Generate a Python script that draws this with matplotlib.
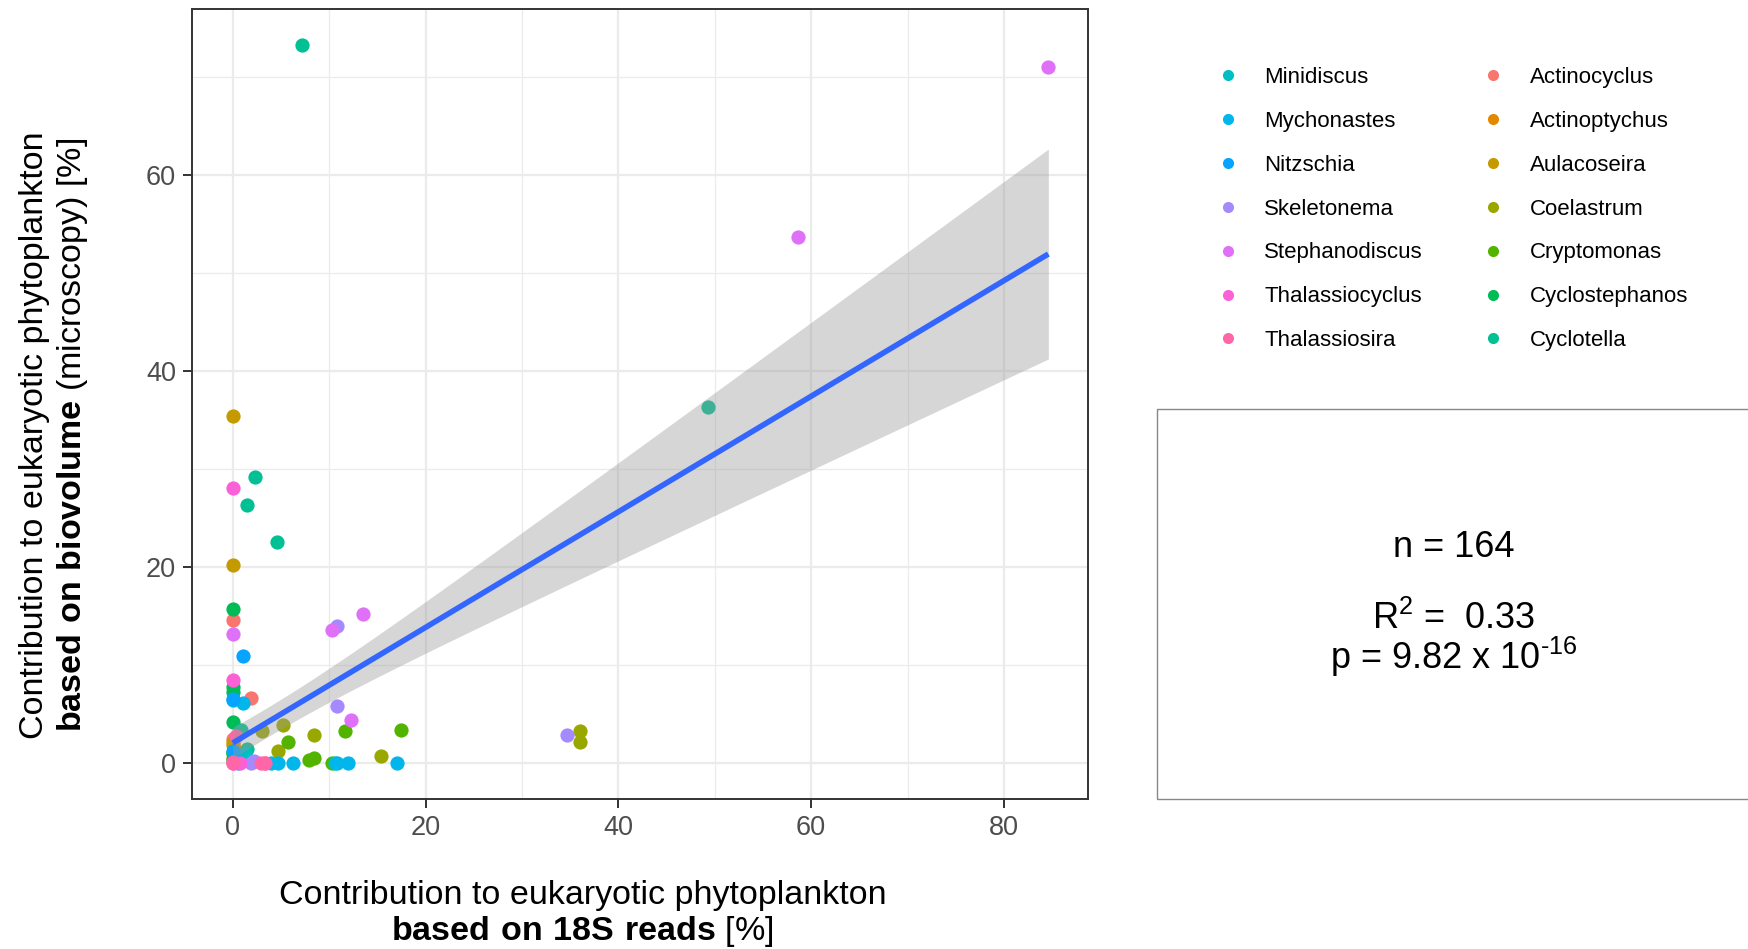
# Biovolume vs 18S reads scatter with linear fit

import matplotlib
matplotlib.use('Agg')
import matplotlib.pyplot as plt
import numpy as np
from matplotlib.lines import Line2D
from matplotlib.patches import Rectangle

# species, in alphabetical (colour) order
species = ['Actinocyclus', 'Actinoptychus', 'Aulacoseira', 'Coelastrum', 'Cryptomonas',
           'Cyclostephanos', 'Cyclotella', 'Minidiscus', 'Mychonastes', 'Nitzschia',
           'Skeletonema', 'Stephanodiscus', 'Thalassiocyclus', 'Thalassiosira']
colors = ['#F8766D', '#E38900', '#C49A00', '#99A800', '#53B400', '#00BC56', '#00C094',
          '#00BFC4', '#00B6EB', '#06A4FF', '#A58AFF', '#DF70F8', '#FB61D7', '#FF66A8']

# x = contribution from 18S reads [%], y = contribution from biovolume [%]
reads_x = {
    'Actinocyclus': [0, 1.9, 0, 3.3],
    'Actinoptychus': [0, 0.3],
    'Aulacoseira': [0, 0, 0, 0],
    'Coelastrum': [3.0, 5.2, 8.4, 4.7, 15.4, 36.0, 36.0, 1.0],
    'Cryptomonas': [5.7, 11.6, 17.5, 7.9, 8.4, 10.3, 0],
    'Cyclostephanos': [0, 0, 0, 0, 0, 0],
    'Cyclotella': [7.2, 49.25, 2.3, 1.45, 4.6, 0.9, 1.5],
    'Minidiscus': [10.6, 1.3, 0.5],
    'Mychonastes': [17.0, 12.0, 6.3, 4.7, 4.0, 1.04, 0, 10.8],
    'Nitzschia': [1.04, 0, 0, 0.5],
    'Skeletonema': [10.85, 10.85, 34.7, 1.9, 2.2],
    'Stephanodiscus': [84.6, 58.6, 10.26, 13.5, 12.3, 0],
    'Thalassiocyclus': [0, 0, 0, 0.8],
    'Thalassiosira': [0, 2.9, 3.3, 0.3, 0],
}
biovol_y = {
    'Actinocyclus': [14.6, 6.6, 2.5, 0],
    'Actinoptychus': [1.8, 1.2],
    'Aulacoseira': [35.4, 20.2, 2.2, 0.5],
    'Coelastrum': [3.3, 3.9, 2.85, 1.25, 0.7, 3.3, 2.2, 0.3],
    'Cryptomonas': [2.2, 3.25, 3.4, 0.3, 0.5, 0, 1.0],
    'Cyclostephanos': [15.7, 7.8, 7.3, 4.2, 1.0, 0.3],
    'Cyclotella': [73.3, 36.3, 29.2, 26.3, 22.6, 3.4, 1.4],
    'Minidiscus': [0, 1.0, 0.6],
    'Mychonastes': [0, 0, 0, 0, 0, 6.1, 6.4, 0],
    'Nitzschia': [10.9, 6.5, 1.2, 0],
    'Skeletonema': [13.96, 5.8, 2.85, 0, 0.2],
    'Stephanodiscus': [71.1, 53.75, 13.6, 15.25, 4.4, 13.2],
    'Thalassiocyclus': [28.1, 8.5, 0, 0],
    'Thalassiosira': [0.1, 0, 0, 2.8, 0],
}

# lm fit summary
n_obs = 164
intercept = 2.05
slope = 0.59
resid_se = 9.8
x_mean = 3.5
sxx = 21900
t_crit = 1.975
r_squared = 0.33
p_text = r'9.82 x 10$^{\mathrm{‐16}}$'

# legend order as in the figure (two columns)
legend_order = ['Minidiscus', 'Mychonastes', 'Nitzschia', 'Skeletonema', 'Stephanodiscus',
                'Thalassiocyclus', 'Thalassiosira', 'Actinocyclus', 'Actinoptychus',
                'Aulacoseira', 'Coelastrum', 'Cryptomonas', 'Cyclostephanos', 'Cyclotella']

plt.rcParams['font.family'] = ['Liberation Sans', 'DejaVu Sans']
plt.rcParams['mathtext.fontset'] = 'custom'
plt.rcParams['mathtext.rm'] = 'Liberation Sans'
plt.rcParams['mathtext.bf'] = 'Liberation Sans:bold'

fig = plt.figure(figsize=(17.49, 9.49), dpi=100)
ax = fig.add_axes((0.1098, 0.158, 0.5122, 0.8325))

for name, col in zip(species, colors):
    ax.scatter(reads_x[name], biovol_y[name], s=105, color=col, linewidths=0, zorder=3)

all_x = np.concatenate([reads_x[k] for k in species])
xs = np.linspace(all_x.min(), all_x.max(), 100)
fit = intercept + slope * xs
half = t_crit * resid_se * np.sqrt(1 / n_obs + (xs - x_mean) ** 2 / sxx)
ax.fill_between(xs, fit - half, fit + half, color='#999999', alpha=0.4, linewidth=0, zorder=4)
ax.plot(xs, fit, color='#3366FF', lw=4, zorder=5, solid_capstyle='butt')

ax.set_xlim(-4.22, 88.7)
ax.set_ylim(-3.67, 76.97)
ax.set_xticks([0, 20, 40, 60, 80])
ax.set_yticks([0, 20, 40, 60])
ax.set_xticks([10, 30, 50, 70], minor=True)
ax.set_yticks([10, 30, 50, 70], minor=True)
ax.grid(which='major', color='#EBEBEB', lw=1.6, zorder=0)
ax.grid(which='minor', color='#EBEBEB', lw=0.9, zorder=0)
ax.set_axisbelow(True)
ax.tick_params(which='major', length=6.5, width=1.4, color='#333333', labelcolor='#4D4D4D',
               labelsize=19.5, pad=5)
ax.tick_params(which='minor', length=0)
for sp in ax.spines.values():
    sp.set_color('#333333')
    sp.set_linewidth(1.4)

# axis titles
fig.text(0.333, 0.056, 'Contribution to eukaryotic phytoplankton', fontsize=24.5,
         ha='center', va='center')
fig.text(0.333, 0.0185, r'$\mathbf{based\ on\ 18S\ reads}$ [%]', fontsize=24.5,
         ha='center', va='center')
fig.text(0.0197, 0.5416, 'Contribution to eukaryotic phytoplankton', fontsize=24.5,
         ha='center', va='center', rotation=90)
fig.text(0.0415, 0.5416, r'$\mathbf{based\ on\ biovolume}$ (microscopy) [%]', fontsize=24.5,
         ha='center', va='center', rotation=90)

# legend
handles = [Line2D([], [], marker='o', ls='none', markersize=8, markeredgewidth=0,
                  color=colors[species.index(k)]) for k in legend_order]
fig.legend(handles, legend_order, loc='upper left', bbox_to_anchor=(0.6956, 0.9295),
           ncol=2, frameon=False, fontsize=16, handlelength=1.0, handletextpad=1.15,
           columnspacing=2.65, labelspacing=1.03, borderpad=0, borderaxespad=0)

# stats box
fig.patches.append(Rectangle((0.6615, 0.158), 0.4, 0.411, transform=fig.transFigure,
                             facecolor='white', edgecolor='#888888', lw=1.0))
fig.text(0.8313, 0.4236, 'n = {}'.format(n_obs), fontsize=26, ha='center', va='center')
fig.text(0.8313, 0.3255, 'R$^2$ =  {:.2f}\np = {}'.format(r_squared, p_text), fontsize=26,
         ha='center', va='center', multialignment='center', linespacing=0.95)

plt.savefig('out.png', dpi=100)
